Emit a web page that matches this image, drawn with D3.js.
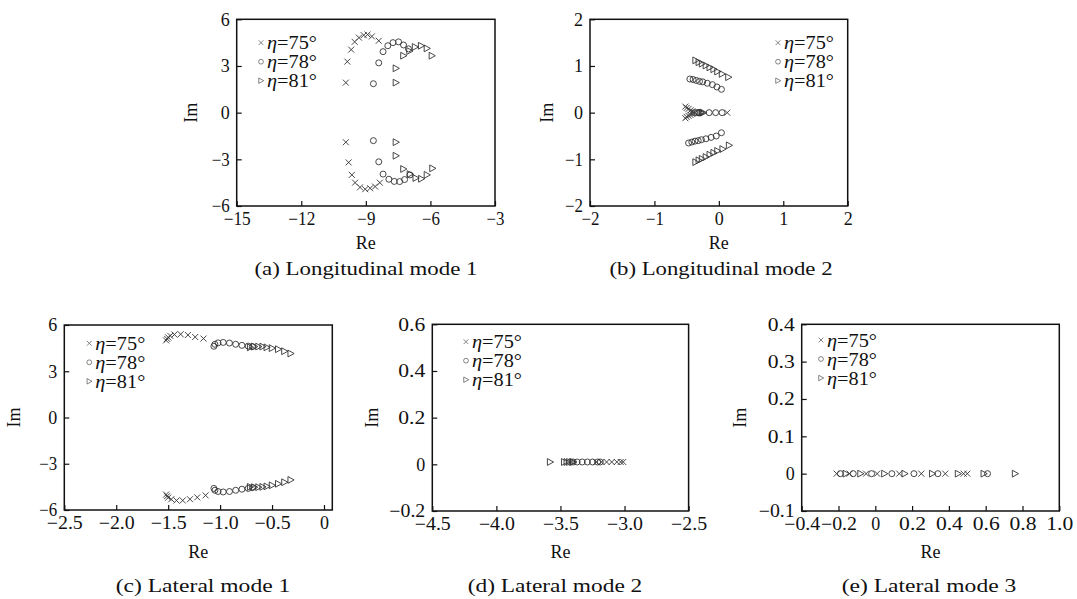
<!DOCTYPE html>
<html lang="en">
<head>
<meta charset="UTF-8">
<title>root loci</title>
<script src="https://cdn.jsdelivr.net/npm/d3@7/dist/d3.min.js"></script>
<style>
  body { margin: 0; background: #fff; }
  text { font-family: "Liberation Serif", "Times New Roman", serif; fill: #111; }
</style>
</head>
<body>
<div id="chart"></div>
<script>
// legend entries, one per series
const seriesNames = ['75', '78', '81'];

// (a) longitudinal mode 1, [Re, Im]
const a75 = [[-9.93,1.93],[-9.86,3.28],[-9.68,4.05],[-9.52,4.55],[-9.32,4.82],[-9.1,4.98],[-8.92,5.02],[-8.72,4.9],[-8.4,4.62],
             [-9.93,-1.9],[-9.8,-3.2],[-9.65,-4.0],[-9.5,-4.5],[-9.27,-4.8],[-9.03,-4.92],[-8.8,-4.86],[-8.57,-4.75],[-8.35,-4.5]];
const a78 = [[-8.65,1.86],[-8.4,3.2],[-8.2,3.92],[-7.98,4.3],[-7.74,4.5],[-7.48,4.55],[-7.25,4.35],[-7.02,4.1],
             [-8.65,-1.8],[-8.4,-3.16],[-8.2,-3.95],[-7.93,-4.28],[-7.68,-4.42],[-7.43,-4.43],[-7.2,-4.3],[-6.95,-4.0]];
const a81 = [[-7.6,1.93],[-7.6,2.85],[-7.25,3.66],[-6.97,3.96],[-6.71,4.22],[-6.43,4.3],[-6.16,4.13],[-5.93,3.66],
             [-7.6,-1.9],[-7.6,-2.77],[-7.25,-3.62],[-6.95,-3.95],[-6.68,-4.2],[-6.42,-4.25],[-6.16,-4.0],[-5.9,-3.58]];

// (b) longitudinal mode 2
const b75 = [[-0.52,0.13],[-0.5,0.1],[-0.47,0.08],[-0.44,0.05],[-0.41,0.03],
             [-0.52,-0.12],[-0.5,-0.09],[-0.47,-0.07],[-0.44,-0.05],[-0.41,-0.03],[-0.37,0],[0.13,0]];
const b78 = [[-0.45,0.72],[-0.4,0.71],[-0.35,0.69],[-0.3,0.67],[-0.25,0.66],[-0.18,0.63],[-0.1,0.6],[-0.03,0.55],[0.04,0.5],
             [-0.38,0],[-0.34,0],[-0.31,0],[-0.15,0],[-0.05,0],[0.05,0],
             [-0.47,-0.65],[-0.42,-0.63],[-0.37,-0.61],[-0.32,-0.6],[-0.27,-0.58],[-0.2,-0.56],[-0.12,-0.53],[-0.04,-0.5],[0.04,-0.43]];
const b81 = [[-0.36,1.12],[-0.31,1.08],[-0.26,1.05],[-0.2,1.01],[-0.14,0.97],[-0.08,0.93],[-0.02,0.88],[0.05,0.83],[0.15,0.76],
             [-0.28,0],[-0.26,0],[-0.24,0],
             [-0.36,-1.06],[-0.31,-1.02],[-0.26,-0.99],[-0.2,-0.95],[-0.14,-0.9],[-0.08,-0.86],[-0.02,-0.82],[0.06,-0.78],[0.16,-0.7]];

// (c) lateral mode 1
const c75 = [[-1.52,5.0],[-1.51,5.1],[-1.5,5.2],[-1.48,5.3],[-1.44,5.38],[-1.38,5.4],[-1.31,5.35],[-1.24,5.22],[-1.16,5.12],
             [-1.52,-5.0],[-1.51,-5.1],[-1.5,-5.2],[-1.47,-5.3],[-1.42,-5.38],[-1.36,-5.38],[-1.29,-5.3],[-1.22,-5.18],[-1.14,-5.05]];
const c78 = [[-1.06,4.62],[-1.05,4.75],[-1.02,4.84],[-0.97,4.87],[-0.91,4.83],[-0.85,4.75],[-0.79,4.68],[-0.73,4.63],[-0.69,4.6],
             [-1.06,-4.6],[-1.05,-4.72],[-1.02,-4.8],[-0.97,-4.83],[-0.91,-4.8],[-0.85,-4.72],[-0.79,-4.65],[-0.73,-4.6],[-0.69,-4.55]];
const c81 = [[-0.71,4.55],[-0.67,4.6],[-0.63,4.6],[-0.59,4.6],[-0.55,4.55],[-0.5,4.5],[-0.44,4.43],[-0.38,4.3],[-0.32,4.15],
             [-0.71,-4.5],[-0.67,-4.52],[-0.63,-4.52],[-0.59,-4.5],[-0.55,-4.47],[-0.5,-4.4],[-0.44,-4.3],[-0.38,-4.2],[-0.32,-4.05]];

// (d) lateral mode 2
const d75 = [[-3.22,0.01],[-3.18,0.01],[-3.14,0.01],[-3.1,0.01],[-3.06,0.01],[-3.03,0.01],[-3.01,0.01]];
const d78 = [[-3.4,0.01],[-3.37,0.01],[-3.33,0.01],[-3.29,0.01],[-3.25,0.01],[-3.21,0.01],[-3.19,0.01]];
const d81 = [[-3.58,0.01],[-3.47,0.01],[-3.45,0.01],[-3.43,0.01],[-3.41,0.01],[-3.4,0.01]];

// (e) lateral mode 3
const e75 = [[-0.21,0],[-0.14,0],[-0.05,0],[0.01,0],[0.13,0],[0.25,0],[0.38,0],[0.48,0],[0.5,0]];
const e78 = [[-0.19,0],[-0.12,0],[-0.02,0],[0.09,0],[0.21,0],[0.34,0],[0.61,0]];
const e81 = [[-0.16,0],[-0.08,0],[0.05,0],[0.16,0],[0.31,0],[0.45,0],[0.59,0],[0.76,0]];

// tick labels
const aTicksX = [-15, -12, -9, -6, -3], aTicksY = [-6, -3, 0, 3, 6];
const bTicksX = [-2, -1, 0, 1, 2], bTicksY = [-2, -1, 0, 1, 2];
const cTicksX = [-2.5, -2.0, -1.5, -1.0, -0.5, 0], cTicksY = [-6, -3, 0, 3, 6];
const dTicksX = [-4.5, -4.0, -3.5, -3.0, -2.5], dTicksY = [-0.2, 0, 0.2, 0.4, 0.6];
const eTicksX = [-0.4, -0.2, 0, 0.2, 0.4, 0.6, 0.8, 1.0], eTicksY = [-0.1, 0, 0.1, 0.2, 0.3, 0.4];

const captions = ['(a) Longitudinal mode 1', '(b) Longitudinal mode 2',
  '(c) Lateral mode 1', '(d) Lateral mode 2', '(e) Lateral mode 3'];

const W = 1077, H = 599;
const svg = d3.select('#chart').append('svg').attr('width', W).attr('height', H);

// frame boxes and domains
const panels = [
  {left: 236.7, right: 495, top: 19.3, bottom: 206, xd: [-15, -3], yd: [-6, 6], tx: aTicksX, ty: aTicksY,
   s: [a75, a78, a81], fx: d3.format('d'), leg: [261, 42.7], imX: 191, capX: 366, capY: 268, reY: 243},
  {left: 590, right: 847.7, top: 19.3, bottom: 206, xd: [-2, 2], yd: [-2, 2], tx: bTicksX, ty: bTicksY,
   s: [b75, b78, b81], fx: d3.format('d'), leg: [778, 42.7], imX: 547, capX: 721, capY: 268, reY: 243},
  {left: 64.3, right: 332.3, top: 325, bottom: 510, xd: [-2.5, 0.08], yd: [-6, 6], tx: cTicksX, ty: cTicksY,
   s: [c75, c78, c81], fx: d => d === 0 ? '0' : d3.format('.1f')(d), fy: d3.format('d'), leg: [89.3, 343.3], imX: 14, capX: 203, capY: 585, reY: 552},
  {left: 432.3, right: 688.6, top: 324.3, bottom: 511, xd: [-4.5, -2.5], yd: [-0.2, 0.6], tx: dTicksX, ty: dTicksY,
   s: [d75, d78, d81], fx: d3.format('.1f'), fy: d => d === 0 ? '0' : d3.format('.1f')(d), leg: [466, 341.7], imX: 372, capX: 555, capY: 585, reY: 552},
  {left: 801.7, right: 1059.3, top: 324.3, bottom: 511, xd: [-0.4, 1.0], yd: [-0.1, 0.4], tx: eTicksX, ty: eTicksY,
   s: [e75, e78, e81], fx: d => d === 0 ? '0' : d3.format('.1f')(d), fy: d => d === 0 ? '0' : d3.format('.1f')(d), leg: [821, 340], imX: 740, capX: 929, capY: 585, reY: 552}
];

const minus = f => d => f(d).replace('-', '\u2212');

// marker shapes: cross, circle, right triangle
function marker(g, k) {
  if (k === 0) g.append('path').attr('d', 'M-3,-3L3,3M-3,3L3,-3');
  else if (k === 1) g.append('circle').attr('r', 3);
  else g.append('path').attr('d', 'M-2.8,-3.4L3.4,0L-2.8,3.4Z');
}

panels.forEach((p, i) => {
  const x = d3.scaleLinear().domain(p.xd).range([p.left, p.right]);
  const y = d3.scaleLinear().domain(p.yd).range([p.bottom, p.top]);
  const g = svg.append('g');

  const xAxis = d3.axisBottom(x).tickValues(p.tx).tickSizeInner(-5).tickSizeOuter(0).tickPadding(6)
    .tickFormat(minus(p.fx));
  const yAxis = d3.axisLeft(y).tickValues(p.ty).tickSizeInner(-5).tickSizeOuter(0).tickPadding(7)
    .tickFormat(minus(p.fy || p.fx));

  g.append('g').attr('transform', `translate(0,${p.bottom})`).call(xAxis);
  g.append('g').attr('transform', `translate(${p.left},0)`).call(yAxis);
  g.selectAll('.domain').remove();
  g.selectAll('.tick line').attr('stroke', '#111').attr('stroke-width', 1.2);
  // the source font sets every glyph half an em wide
  g.selectAll('.tick text').attr('font-size', 18).attr('font-family', '"Liberation Serif", serif').attr('fill', '#111')
    .attr('textLength', function () { return this.textContent.length * 9; })
    .attr('lengthAdjust', 'spacingAndGlyphs');

  g.append('rect').attr('x', p.left).attr('y', p.top)
    .attr('width', p.right - p.left).attr('height', p.bottom - p.top)
    .attr('fill', 'none').attr('stroke', '#111').attr('stroke-width', 1.5);

  p.s.forEach((pts, k) => {
    g.append('g').selectAll('g').data(pts).join('g')
      .attr('transform', d => `translate(${x(d[0])},${y(d[1])})`)
      .attr('fill', 'none').attr('stroke', '#333').attr('stroke-width', 0.9)
      .each(function () { marker(d3.select(this), k); });
  });

  // legend
  seriesNames.forEach((n, k) => {
    const ly = p.leg[1] + k * 19;
    const m = g.append('g')
      .attr('fill', 'none').attr('stroke', '#555').attr('stroke-width', 0.9);
    m.call(s => marker(s, k));
    m.attr('transform', `translate(${p.leg[0]},${ly}) scale(0.8)`);
    const t = g.append('text').attr('x', p.leg[0] + 6).attr('y', ly).attr('dy', '0.35em')
      .attr('font-size', 19).attr('textLength', 50).attr('lengthAdjust', 'spacingAndGlyphs');
    t.append('tspan').attr('font-style', 'italic').text('η');
    t.append('tspan').text('=' + n + '°');
  });

  const cx = (p.left + p.right) / 2, cy = (p.top + p.bottom) / 2;
  g.append('text').attr('x', cx).attr('y', p.reY).attr('dy', '0.35em')
    .attr('text-anchor', 'middle').attr('font-size', 18).text('Re');
  g.append('text').attr('transform', `translate(${p.imX},${cy}) rotate(-90)`).attr('dy', '0.35em')
    .attr('text-anchor', 'middle').attr('font-size', 18).text('Im');
  g.append('text').attr('x', p.capX).attr('y', p.capY).attr('dy', '0.35em')
    .attr('text-anchor', 'middle').attr('font-size', 19)
    .attr('textLength', captions[i].length * 9.7).attr('lengthAdjust', 'spacingAndGlyphs')
    .text(captions[i]);
});
</script>
</body>
</html>
